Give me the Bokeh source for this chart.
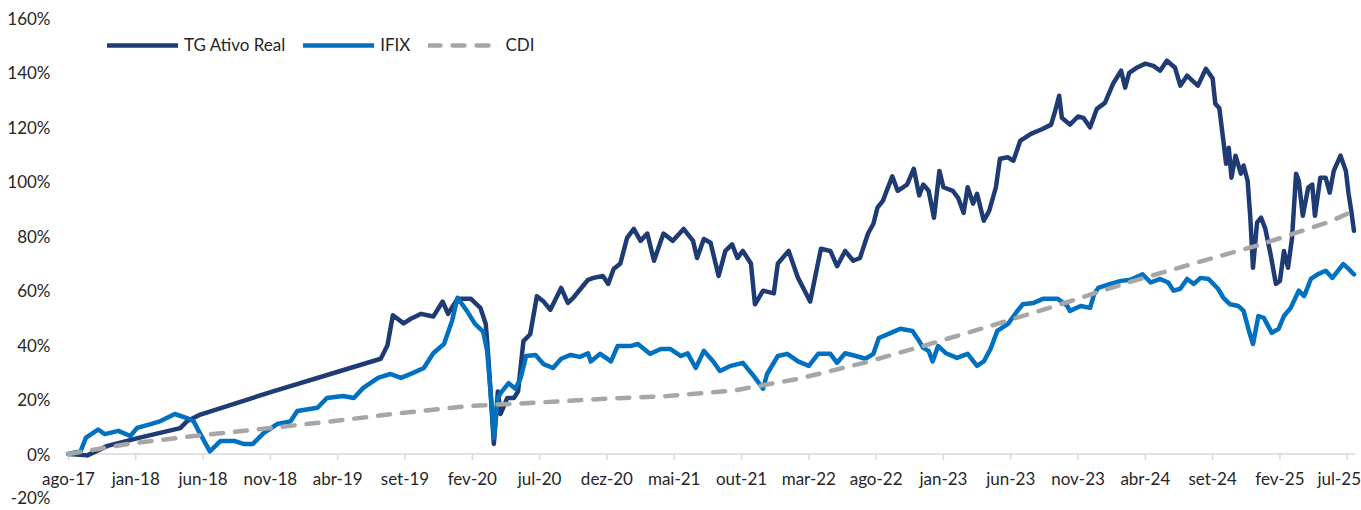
import math
from bokeh.plotting import figure
from bokeh.models import Range1d, Legend, LegendItem
from bokeh.core.properties import value
from bokeh.embed import file_html
from bokeh.resources import INLINE

# ---------------- data (x = months since ago-17, y = accumulated return in %) -------------
x_ticks = [0, 5, 10, 15, 20, 25, 30, 35, 40, 45, 50, 55, 60, 65, 70, 75, 80, 85, 90, 95]
x_labels = ["ago-17", "jan-18", "jun-18", "nov-18", "abr-19", "set-19", "fev-20", "jul-20",
            "dez-20", "mai-21", "out-21", "mar-22", "ago-22", "jan-23", "jun-23", "nov-23",
            "abr-24", "set-24", "fev-25", "jul-25"]
y_ticks = [-20, 0, 20, 40, 60, 80, 100, 120, 140, 160]
y_labels = ["-20%", "0%", "20%", "40%", "60%", "80%", "100%", "120%", "140%", "160%"]

tg_m = [0, 1.4, 2.9, 5.3, 8.3, 8.8, 9.8, 15.2, 20.2, 23.2,
        23.7, 24.1, 24.9, 25.4, 26.2, 27.1, 27.8, 28.2, 28.9, 29.9,
        30.6, 31.0, 31.2, 31.6, 31.9, 32.1, 32.6, 33.1, 33.4, 33.8,
        34.3, 34.8, 35.3, 35.8, 36.6, 37.1, 37.5, 38.6, 39.0, 39.7,
        40.1, 40.5, 41.0, 41.5, 42.0, 42.5, 43.0, 43.5, 44.2, 44.9,
        45.7, 46.4, 46.7, 47.2, 47.7, 48.3, 48.8, 49.3, 49.7, 50.1,
        50.7, 51.0, 51.6, 52.4, 52.7, 53.5, 54.2, 55.1, 55.9, 56.6,
        57.1, 57.7, 58.3, 58.8, 59.4, 59.8, 60.1, 60.5, 61.2, 61.6,
        62.3, 62.8, 63.2, 63.5, 63.9, 64.3, 64.7, 65.0, 65.7, 66.1,
        66.5, 66.8, 67.2, 67.5, 68.0, 68.4, 68.9, 69.2, 69.8, 70.2,
        70.7, 71.5, 72.4, 73.0, 73.3, 73.6, 73.8, 74.4, 75.0, 75.4,
        75.9, 76.4, 77.0, 77.6, 78.2, 78.5, 78.8, 79.4, 80.0, 80.6,
        81.1, 81.6, 82.2, 82.6, 83.1, 83.9, 84.5, 85.0, 85.2, 85.5,
        85.8, 86.0, 86.2, 86.4, 86.7, 87.1, 87.3, 87.6, 87.8, 88.0,
        88.3, 88.6, 88.9, 89.3, 89.7, 90.0, 90.3, 90.6, 90.9, 91.2,
        91.4, 91.7, 92.1, 92.4, 92.6, 93.0, 93.4, 93.7, 94.0, 94.5,
        94.9, 95.1, 95.3, 95.5]
tg_v = [0, -0.5, 3, 6, 9.5, 12, 14.5, 23, 30.5, 35,
        40, 51, 48, 49.6, 51.5, 50.5, 56, 51.5, 57, 57,
        53.7, 47.8, 35, 3.7, 23, 14.7, 20.6, 20.6, 23, 41.5,
        44, 58, 56, 53, 61, 55.5, 57.4, 64, 64.7, 65.4,
        62.5, 68, 70, 79.4, 82.7, 78.3, 81, 71, 81, 78.3,
        82.7, 78.3, 72, 79, 77.6, 65.4, 74.6, 77, 72, 74.6,
        70, 55, 60, 59, 70, 74.6, 64.7, 56, 75.4, 74.6,
        69, 74.6, 71, 72, 81, 84.6, 90.5, 93, 102, 96.7,
        99, 104.8, 95, 99, 96.7, 86.8, 104, 98, 96.7, 94,
        88.6, 98, 92, 95.6, 85.7, 89.3, 98, 108.5, 109, 107.7,
        115, 117.6, 119.5, 121, 126, 131.6, 123.5, 121, 124, 123.5,
        120, 126.8, 129, 136, 140.8, 134.6, 140, 142, 143.4, 142.6,
        140.8, 144.5, 142, 135.3, 139, 135.3, 141.5, 138, 128.7, 127,
        115, 106.6, 112.5, 101.5, 109.6, 103, 106, 100.4, 86.8, 68.4,
        85, 86.8, 83, 73.5, 62.5, 63.6, 74.6, 68.4, 79.4, 103,
        100.4, 87.5, 97.8, 99, 87.5, 101.5, 101.5, 96, 104, 109.6,
        104, 95.6, 89.3, 82]

ifix_m = [0, 0.9, 1.3, 2.2, 2.7, 3.7, 4.6, 5.1, 6.1, 6.8,
          7.9, 8.8, 9.3, 9.8, 10.5, 11.3, 12.3, 13.0, 13.7, 14.5,
          15.5, 16.5, 17.0, 18.5, 19.2, 20.4, 21.2, 21.9, 23.0, 23.9,
          24.7, 25.6, 26.4, 27.1, 27.9, 28.5, 28.9, 29.6, 30.2, 30.8,
          31.1, 31.4, 31.6, 31.9, 32.2, 32.7, 33.2, 33.6, 34.0, 34.7,
          35.3, 36.0, 36.6, 37.3, 38.0, 38.6, 38.8, 39.5, 40.3, 40.8,
          41.8, 42.3, 43.2, 44.0, 44.7, 45.5, 46.0, 46.6, 47.2, 47.9,
          48.4, 49.2, 50.1, 50.9, 51.6, 51.9, 52.7, 53.4, 54.2, 55.0,
          55.7, 56.6, 57.1, 57.7, 58.5, 59.2, 59.8, 60.2, 61.1, 61.8,
          62.7, 63.2, 63.5, 63.9, 64.2, 64.6, 65.2, 66.0, 66.8, 67.5,
          68.0, 68.5, 69.0, 69.8, 70.5, 70.9, 71.7, 72.4, 73.5, 74.2,
          74.4, 75.2, 75.9, 76.2, 76.5, 77.4, 78.2, 78.9, 79.8, 80.4,
          81.1, 81.7, 82.1, 82.6, 83.1, 83.6, 84.1, 84.7, 85.4, 85.8,
          86.3, 86.9, 87.3, 87.7, 88.0, 88.4, 88.8, 89.4, 89.9, 90.3,
          90.8, 91.4, 91.8, 92.3, 92.8, 93.4, 93.9, 94.7, 95.1, 95.5]
ifix_v = [0, 1, 6, 9, 7.3, 8.5, 6.6, 9.6, 11, 12,
          14.7, 13.2, 12, 7.3, 1, 4.8, 4.8, 3.7, 3.7, 7.7,
          11, 12, 15.8, 17, 20.6, 21.3, 20.6, 24.3, 28, 29.4,
          28, 29.8, 31.6, 37, 40.4, 49, 57.4, 52.6, 47.8, 45,
          38, 20.6, 5.9, 20.6, 23, 26, 24, 28, 36, 36.4,
          33, 31.6, 35, 36.4, 35.7, 37, 34, 36.8, 34, 39.7,
          39.7, 40.4, 36.8, 38.6, 38.6, 36, 37, 31.6, 37.9, 34,
          30.5, 32.4, 33.5, 28.7, 24, 29.4, 36, 36.8, 34, 32.4,
          36.8, 36.8, 33.5, 37, 36, 35, 36.8, 42.6, 44.5, 46,
          45.2, 41.5, 39, 37.9, 34, 39.7, 37, 35.3, 36.8, 32.4,
          34, 38.6, 45.2, 47.8, 52.6, 55, 55.5, 57, 57, 54.4,
          52.6, 54.4, 53.7, 58.8, 61, 62.5, 63.6, 64, 66, 63,
          64.3, 63, 60, 60.7, 64.3, 62.5, 64.7, 64.3, 60.7, 57.4,
          55, 54.4, 52.6, 45.2, 40.4, 50.7, 50, 44.5, 46, 50.7,
          53.7, 60, 58, 64.3, 66, 67.3, 64.7, 69.8, 68, 66]

cdi_m = [0, 4.4, 9.3, 14.3, 19.2, 24.1, 29.6, 34.5, 39.5, 44.5, 49.4,
         54.2, 59.1, 64.0, 69.0, 73.9, 78.7, 83.6, 88.6, 93.5, 95.5]
cdi_v = [0, 3.7, 6.6, 9.2, 11.8, 14.7, 17.6, 18.8, 20.2, 21.3, 23.3,
         27.6, 33.5, 40.4, 47.8, 55.3, 63, 70, 77, 85, 89.3]

# ---------------- styling ----------------
FONT = "Lato"
TXT = "#262626"
C_TG = "#1F3B74"
C_IFIX = "#0070C0"
C_CDI = "#A6A6A6"
C_AXIS = "#D9D9D9"

# the frame fills the whole canvas; axes are drawn inside it so that no text is clipped
p = figure(width=1361, height=510,
           x_range=Range1d(-5.05, 96.06), y_range=Range1d(-20.75, 166.6),
           x_axis_type=None, y_axis_type=None,
           output_backend="svg", toolbar_location=None,
           min_border_left=0, min_border_right=0, min_border_top=0, min_border_bottom=0)
p.outline_line_color = None
p.background_fill_color = "white"
p.border_fill_color = "white"
p.grid.visible = False

# y-axis labels (the lowest one nudged up so it stays inside the page)
y_off = [-11] + [0] * (len(y_ticks) - 1)
p.text(x=[0] * len(y_ticks), y=y_ticks, text=y_labels, x_offset=-18, y_offset=y_off,
       text_align="right", text_baseline="middle",
       text_font=value(FONT), text_font_size="17px", text_color=TXT)

# category axis at y = 0
x_end = max(tg_m) + 0.1
p.segment(x0=[x_ticks[0]], y0=[0], x1=[x_end], y1=[0], line_color=C_AXIS, line_width=1.5)
p.ray(x=x_ticks, y=[0] * len(x_ticks), length=6, length_units="screen",
      angle=-math.pi / 2, line_color=C_AXIS, line_width=1.5)
x_off = [0] * (len(x_ticks) - 1) + [-8]
p.text(x=x_ticks, y=[0] * len(x_ticks), text=x_labels, x_offset=x_off, y_offset=24,
       text_align="center", text_baseline="middle",
       text_font=value(FONT), text_font_size="17px", text_color=TXT)

r_tg = p.line(tg_m, tg_v, line_color=C_TG, line_width=4.5,
              line_join="round", line_cap="round")
r_if = p.line(ifix_m, ifix_v, line_color=C_IFIX, line_width=4.5,
              line_join="round", line_cap="round")
r_cdi = p.line(cdi_m, cdi_v, line_color=C_CDI, line_width=4.5,
               line_dash="12 12", line_cap="round", line_join="round")

legend = Legend(items=[LegendItem(label="TG Ativo Real", renderers=[r_tg]),
                       LegendItem(label="IFIX", renderers=[r_if]),
                       LegendItem(label="CDI", renderers=[r_cdi])],
                orientation="horizontal", location=(107, 455),
                padding=0, margin=0, spacing=18,
                glyph_width=71, glyph_height=20, label_standoff=6,
                label_text_font=FONT, label_text_font_size="17px",
                label_text_color=TXT,
                background_fill_alpha=0, border_line_alpha=0)
p.add_layout(legend)

open("out.html", "w").write(file_html(p, INLINE))
